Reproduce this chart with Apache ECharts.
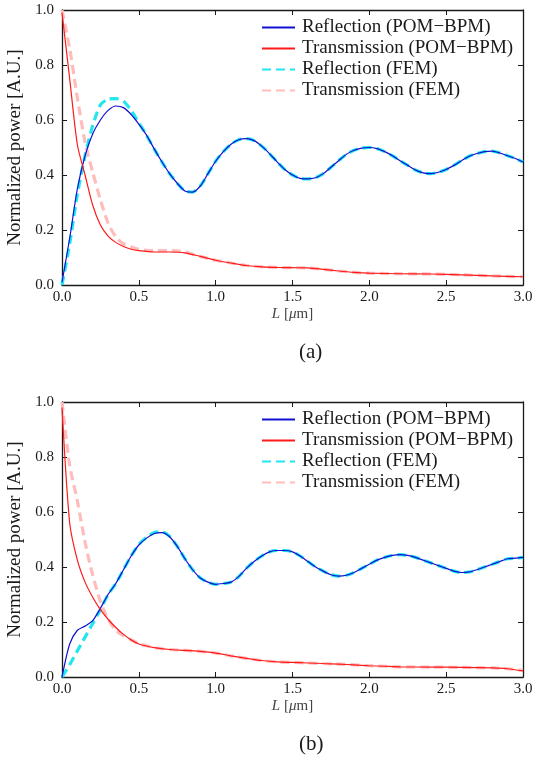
<!DOCTYPE html>
<html>
<head>
<meta charset="utf-8">
<script src="https://cdn.jsdelivr.net/npm/echarts@6/dist/echarts.min.js"></script>
<style>
html,body{margin:0;padding:0;background:#fff;}
#chart{width:539px;height:760px;}
</style>
</head>
<body>
<div id="chart"></div>
<script>
// ---- Data (L in µm, normalized power) ----
var xTicks = [0.0, 0.5, 1.0, 1.5, 2.0, 2.5, 3.0];
var yTicks = [0.0, 0.2, 0.4, 0.6, 0.8, 1.0];
var seriesNames = ['Reflection (POM\u2212BPM)', 'Transmission (POM\u2212BPM)', 'Reflection (FEM)', 'Transmission (FEM)'];
var panelLabels = ['(a)', '(b)'];

// Panel (a)
var reflBpmA = [[0,0.01],[0.05,0.17],[0.1,0.35],[0.15,0.47],[0.2,0.55],[0.25,0.6],[0.3,0.635],[0.35,0.651],[0.4,0.645],[0.45,0.62],[0.5,0.585],[0.55,0.545],[0.6,0.495],[0.65,0.448],[0.7,0.405],[0.75,0.37],[0.8,0.342],[0.85,0.338],[0.9,0.36],[0.95,0.405],[1.0,0.45],[1.05,0.485],[1.1,0.512],[1.15,0.528],[1.2,0.532],[1.25,0.525],[1.3,0.505],[1.35,0.478],[1.4,0.448],[1.45,0.42],[1.5,0.4],[1.55,0.388],[1.6,0.386],[1.65,0.39],[1.7,0.405],[1.75,0.428],[1.8,0.452],[1.85,0.475],[1.9,0.49],[1.95,0.498],[2.0,0.5],[2.05,0.496],[2.1,0.485],[2.15,0.47],[2.2,0.452],[2.25,0.435],[2.3,0.418],[2.35,0.408],[2.4,0.405],[2.45,0.41],[2.5,0.42],[2.55,0.435],[2.6,0.452],[2.65,0.468],[2.7,0.478],[2.75,0.485],[2.8,0.487],[2.85,0.48],[2.9,0.47],[2.95,0.46],[3.0,0.447]];
var transBpmA = [[0,0.99],[0.05,0.75],[0.1,0.51],[0.15,0.4],[0.2,0.29],[0.25,0.218],[0.3,0.178],[0.35,0.155],[0.4,0.14],[0.45,0.13],[0.5,0.125],[0.6,0.12],[0.7,0.12],[0.8,0.117],[0.9,0.104],[1.0,0.09],[1.1,0.08],[1.2,0.071],[1.3,0.066],[1.4,0.064],[1.5,0.063],[1.6,0.062],[1.7,0.057],[1.8,0.051],[1.9,0.046],[2.0,0.043],[2.2,0.041],[2.4,0.04],[2.6,0.037],[2.8,0.033],[3.0,0.03]];
var reflFemA = [[0,0],[0.05,0.15],[0.1,0.33],[0.15,0.47],[0.2,0.58],[0.25,0.655],[0.3,0.676],[0.35,0.678],[0.4,0.668],[0.45,0.635],[0.5,0.59],[0.55,0.545],[0.6,0.495],[0.65,0.448],[0.7,0.405],[0.75,0.37],[0.8,0.342],[0.85,0.338],[0.9,0.36],[0.95,0.405],[1.0,0.45],[1.05,0.485],[1.1,0.512],[1.15,0.528],[1.2,0.532],[1.25,0.525],[1.3,0.505],[1.35,0.478],[1.4,0.448],[1.45,0.42],[1.5,0.4],[1.55,0.388],[1.6,0.386],[1.65,0.39],[1.7,0.405],[1.75,0.428],[1.8,0.452],[1.85,0.475],[1.9,0.49],[1.95,0.498],[2.0,0.5],[2.05,0.496],[2.1,0.485],[2.15,0.47],[2.2,0.452],[2.25,0.435],[2.3,0.418],[2.35,0.408],[2.4,0.405],[2.45,0.41],[2.5,0.42],[2.55,0.435],[2.6,0.452],[2.65,0.468],[2.7,0.478],[2.75,0.485],[2.8,0.487],[2.85,0.48],[2.9,0.47],[2.95,0.46],[3.0,0.447]];
var transFemA = [[0,1.0],[0.05,0.86],[0.1,0.68],[0.15,0.52],[0.2,0.41],[0.25,0.31],[0.3,0.225],[0.35,0.175],[0.4,0.15],[0.5,0.13],[0.6,0.125],[0.7,0.125],[0.8,0.12],[0.9,0.104],[1.0,0.09],[1.1,0.08],[1.2,0.071],[1.3,0.066],[1.4,0.064],[1.5,0.063],[1.6,0.062],[1.7,0.057],[1.8,0.051],[1.9,0.046],[2.0,0.043],[2.2,0.041],[2.4,0.04],[2.6,0.037],[2.8,0.033],[3.0,0.03]];

// Panel (b)
var reflBpmB = [[0,0.0],[0.05,0.12],[0.1,0.17],[0.15,0.185],[0.2,0.205],[0.25,0.25],[0.3,0.3],[0.35,0.34],[0.4,0.39],[0.45,0.44],[0.5,0.48],[0.55,0.505],[0.6,0.522],[0.65,0.525],[0.7,0.51],[0.75,0.475],[0.8,0.43],[0.85,0.39],[0.9,0.36],[0.95,0.345],[1.0,0.337],[1.05,0.34],[1.1,0.345],[1.15,0.365],[1.2,0.395],[1.25,0.42],[1.3,0.44],[1.35,0.455],[1.4,0.46],[1.45,0.46],[1.5,0.455],[1.55,0.44],[1.6,0.42],[1.65,0.4],[1.7,0.385],[1.75,0.372],[1.8,0.367],[1.85,0.37],[1.9,0.38],[1.95,0.395],[2.0,0.41],[2.05,0.425],[2.1,0.435],[2.15,0.442],[2.2,0.445],[2.25,0.442],[2.3,0.435],[2.35,0.425],[2.4,0.415],[2.45,0.405],[2.5,0.395],[2.55,0.385],[2.6,0.38],[2.65,0.382],[2.7,0.39],[2.75,0.4],[2.8,0.41],[2.85,0.42],[2.9,0.43],[2.95,0.432],[3.0,0.435]];
var transBpmB = [[0,0.98],[0.05,0.56],[0.1,0.425],[0.15,0.345],[0.2,0.29],[0.25,0.245],[0.3,0.21],[0.35,0.18],[0.4,0.155],[0.45,0.135],[0.5,0.12],[0.6,0.107],[0.7,0.1],[0.8,0.097],[0.9,0.093],[1.0,0.087],[1.1,0.077],[1.2,0.068],[1.3,0.06],[1.4,0.055],[1.5,0.053],[1.6,0.051],[1.7,0.049],[1.8,0.047],[1.9,0.044],[2.0,0.041],[2.1,0.039],[2.2,0.037],[2.4,0.036],[2.6,0.035],[2.8,0.033],[2.9,0.03],[3.0,0.022]];
var reflFemB = [[0,0],[0.05,0.045],[0.1,0.095],[0.15,0.145],[0.2,0.195],[0.25,0.245],[0.3,0.3],[0.35,0.34],[0.4,0.39],[0.45,0.44],[0.5,0.482],[0.55,0.508],[0.6,0.525],[0.65,0.528],[0.7,0.512],[0.75,0.475],[0.8,0.43],[0.85,0.39],[0.9,0.36],[0.95,0.345],[1.0,0.337],[1.05,0.34],[1.1,0.345],[1.15,0.365],[1.2,0.395],[1.25,0.42],[1.3,0.44],[1.35,0.455],[1.4,0.46],[1.45,0.46],[1.5,0.455],[1.55,0.44],[1.6,0.42],[1.65,0.4],[1.7,0.385],[1.75,0.372],[1.8,0.367],[1.85,0.37],[1.9,0.38],[1.95,0.395],[2.0,0.41],[2.05,0.425],[2.1,0.435],[2.15,0.442],[2.2,0.445],[2.25,0.442],[2.3,0.435],[2.35,0.425],[2.4,0.415],[2.45,0.405],[2.5,0.395],[2.55,0.385],[2.6,0.38],[2.65,0.382],[2.7,0.39],[2.75,0.4],[2.8,0.41],[2.85,0.42],[2.9,0.43],[2.95,0.432],[3.0,0.435]];
var transFemB = [[0,1.0],[0.05,0.77],[0.1,0.64],[0.15,0.49],[0.2,0.37],[0.25,0.275],[0.3,0.21],[0.35,0.17],[0.4,0.15],[0.45,0.135],[0.5,0.122],[0.6,0.107],[0.7,0.1],[0.8,0.097],[0.9,0.093],[1.0,0.087],[1.1,0.077],[1.2,0.068],[1.3,0.06],[1.4,0.055],[1.5,0.053],[1.6,0.051],[1.7,0.049],[1.8,0.047],[1.9,0.044],[2.0,0.041],[2.1,0.039],[2.2,0.037],[2.4,0.036],[2.6,0.035],[2.8,0.033],[2.9,0.03],[3.0,0.024]];

var panels = [
  {refl: reflBpmA, trans: transBpmA, reflF: reflFemA, transF: transFemA},
  {refl: reflBpmB, trans: transBpmB, reflF: reflFemB, transF: transFemB}
];

var FONT = '"Liberation Serif", "DejaVu Serif", serif';
var INK = '#1a1a1a';
var gridTops = [10, 402];
var gridH = 275;
var colors = ['#1010d0', '#ff1a1a', '#22e6ee', '#ffbcbc'];

var chart = echarts.init(document.getElementById('chart'), null, {renderer: 'canvas'});

var grid = [], xAxis = [], yAxis = [], series = [], legend = [], graphic = [];
panels.forEach(function (p, i) {
  grid.push({left: 62, right: 16, top: gridTops[i], height: gridH, containLabel: false, outerBoundsMode: 'none'});
  var axLine = {show: true, onZero: false, lineStyle: {color: INK, width: 1.3}};
  var tick = {show: true, inside: true, length: 5, lineStyle: {color: INK, width: 1}};
  xAxis.push({
    type: 'value', gridIndex: i, min: 0, max: 3, interval: 0.5, position: 'bottom',
    axisLine: axLine, axisTick: tick, splitLine: {show: false},
    axisLabel: {show: true, margin: 5, color: INK, fontFamily: FONT, fontSize: 15,
      formatter: function (v) { return v.toFixed(1); }},
    name: '{i|L} {n|[}{i|\u03bc}{n|m]}', nameLocation: 'middle', nameGap: 22,
    nameTextStyle: {color: '#444', fontFamily: FONT, fontSize: 15,
      rich: {i: {fontStyle: 'italic', fontFamily: FONT, fontSize: 15, color: '#444'},
             n: {fontFamily: FONT, fontSize: 15, color: '#444'}}}
  });
  xAxis.push({
    type: 'value', gridIndex: i, min: 0, max: 3, interval: 0.5, position: 'top',
    axisLine: axLine, axisTick: tick, axisLabel: {show: false}, splitLine: {show: false}
  });
  yAxis.push({
    type: 'value', gridIndex: i, min: 0, max: 1, interval: 0.2, position: 'left',
    axisLine: axLine, axisTick: tick, splitLine: {show: false},
    axisLabel: {show: true, margin: 8, color: INK, fontFamily: FONT, fontSize: 15,
      formatter: function (v) { return v.toFixed(1); }},
    name: 'Normalized power [A.U.]', nameLocation: 'middle', nameGap: 29,
    nameTextStyle: {color: INK, fontFamily: FONT, fontSize: 19}
  });
  yAxis.push({
    type: 'value', gridIndex: i, min: 0, max: 1, interval: 0.2, position: 'right',
    axisLine: axLine, axisTick: tick, axisLabel: {show: false}, splitLine: {show: false}
  });

  var xi = i * 2, yi = i * 2;
  function mk(name, data, color, width, dashed, z) {
    return {
      name: name, type: 'line', xAxisIndex: xi, yAxisIndex: yi, data: data,
      symbol: 'none', showSymbol: false, smooth: 0.25, z: z, silent: true, animation: false,
      lineStyle: {color: color, width: width, type: dashed ? [9, 5] : 'solid', cap: 'butt'},
      itemStyle: {color: color}
    };
  }
  series.push(mk(seriesNames[2], p.reflF, colors[2], 3.2, true, 2));
  series.push(mk(seriesNames[3], p.transF, colors[3], 3.2, true, 2));
  series.push(mk(seriesNames[0], p.refl, colors[0], 1.2, false, 3));
  series.push(mk(seriesNames[1], p.trans, colors[1], 1.2, false, 3));

  legend.push({
    show: true, orient: 'vertical', left: 256, top: gridTops[i] + 2,
    itemWidth: 33, itemHeight: 14, itemGap: 0,
    data: seriesNames.slice(), selectedMode: false,
    itemStyle: {opacity: 0},
    textStyle: {color: INK, fontFamily: FONT, fontSize: 19, lineHeight: 21, padding: [0, 0, 0, 2]}
  });

  graphic.push({
    type: 'text', left: 312 - 13, top: gridTops[i] + gridH + 57,
    style: {text: panelLabels[i], font: '21px ' + FONT, fill: INK}
  });
});

chart.setOption({
  backgroundColor: '#ffffff',
  animation: false,
  grid: grid, xAxis: xAxis, yAxis: yAxis, series: series, legend: legend, graphic: graphic
});
</script>
</body>
</html>
